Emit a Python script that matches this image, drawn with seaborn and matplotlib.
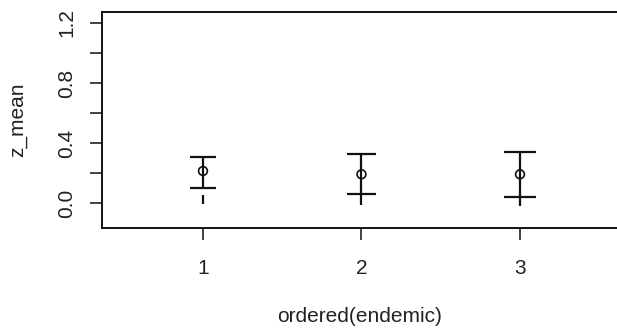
import matplotlib
matplotlib.use('Agg')
import matplotlib.pyplot as plt
import seaborn as sns
import pandas as pd

# values
groups = [1, 2, 3]
z_mean = [0.213, 0.191, 0.191]
upper = [0.309, 0.325, 0.342]
lower = [0.102, 0.058, 0.042]
tail_top = [0.053, 0.058, 0.042]
tail_bottom = [-0.010, -0.013, -0.018]
y_ticks = [0.0, 0.2, 0.4, 0.6, 0.8, 1.0, 1.2]
y_labels = ['0.0', '', '0.4', '', '0.8', '', '1.2']

cap_widths = [0.162, 0.181, 0.206]

sns.set_style('ticks')
plt.rcParams['font.family'] = ['Liberation Sans', 'DejaVu Sans']

df = pd.DataFrame({'endemic': groups, 'z_mean': z_mean})

fig = plt.figure(figsize=(6.17, 3.36), dpi=100)
ax = fig.add_axes([102 / 617, 108 / 336, 515 / 617, 216 / 336])

lc = '#111111'
ax.vlines(groups, lower, upper, color=lc, lw=1.6)
ax.vlines(groups, tail_bottom, tail_top, color=lc, lw=1.6)
for g, u, l, w in zip(groups, upper, lower, cap_widths):
    ax.hlines([u, l], g - w / 2, g + w / 2, color=lc, lw=1.6)

sns.scatterplot(data=df, x='endemic', y='z_mean', ax=ax, marker='o', s=40,
                facecolor='none', edgecolor=lc, linewidth=1.2, zorder=3)

ax.set_xlim(0.363, 3.612)
ax.set_ylim(-0.167, 1.273)
ax.set_xticks(groups)
ax.set_xticklabels([str(g) for g in groups])
ax.set_yticks(y_ticks)
ax.set_yticklabels(y_labels, rotation=90, va='center')

for side in ['top', 'left', 'bottom']:
    ax.spines[side].set_visible(True)
    ax.spines[side].set_color('black')
    ax.spines[side].set_linewidth(1.3)
ax.spines['right'].set_visible(False)

ax.tick_params(axis='both', length=8.5, width=1.2, color='#222222',
               labelsize=15, labelcolor='#222222')
ax.tick_params(axis='x', pad=13.5)
ax.tick_params(axis='y', pad=10)

ax.set_xlabel('ordered(endemic)', fontsize=15, color='#222222', labelpad=21)
ax.set_ylabel('z_mean', fontsize=15, color='#222222', labelpad=22)

fig.savefig('out.png', dpi=100)
